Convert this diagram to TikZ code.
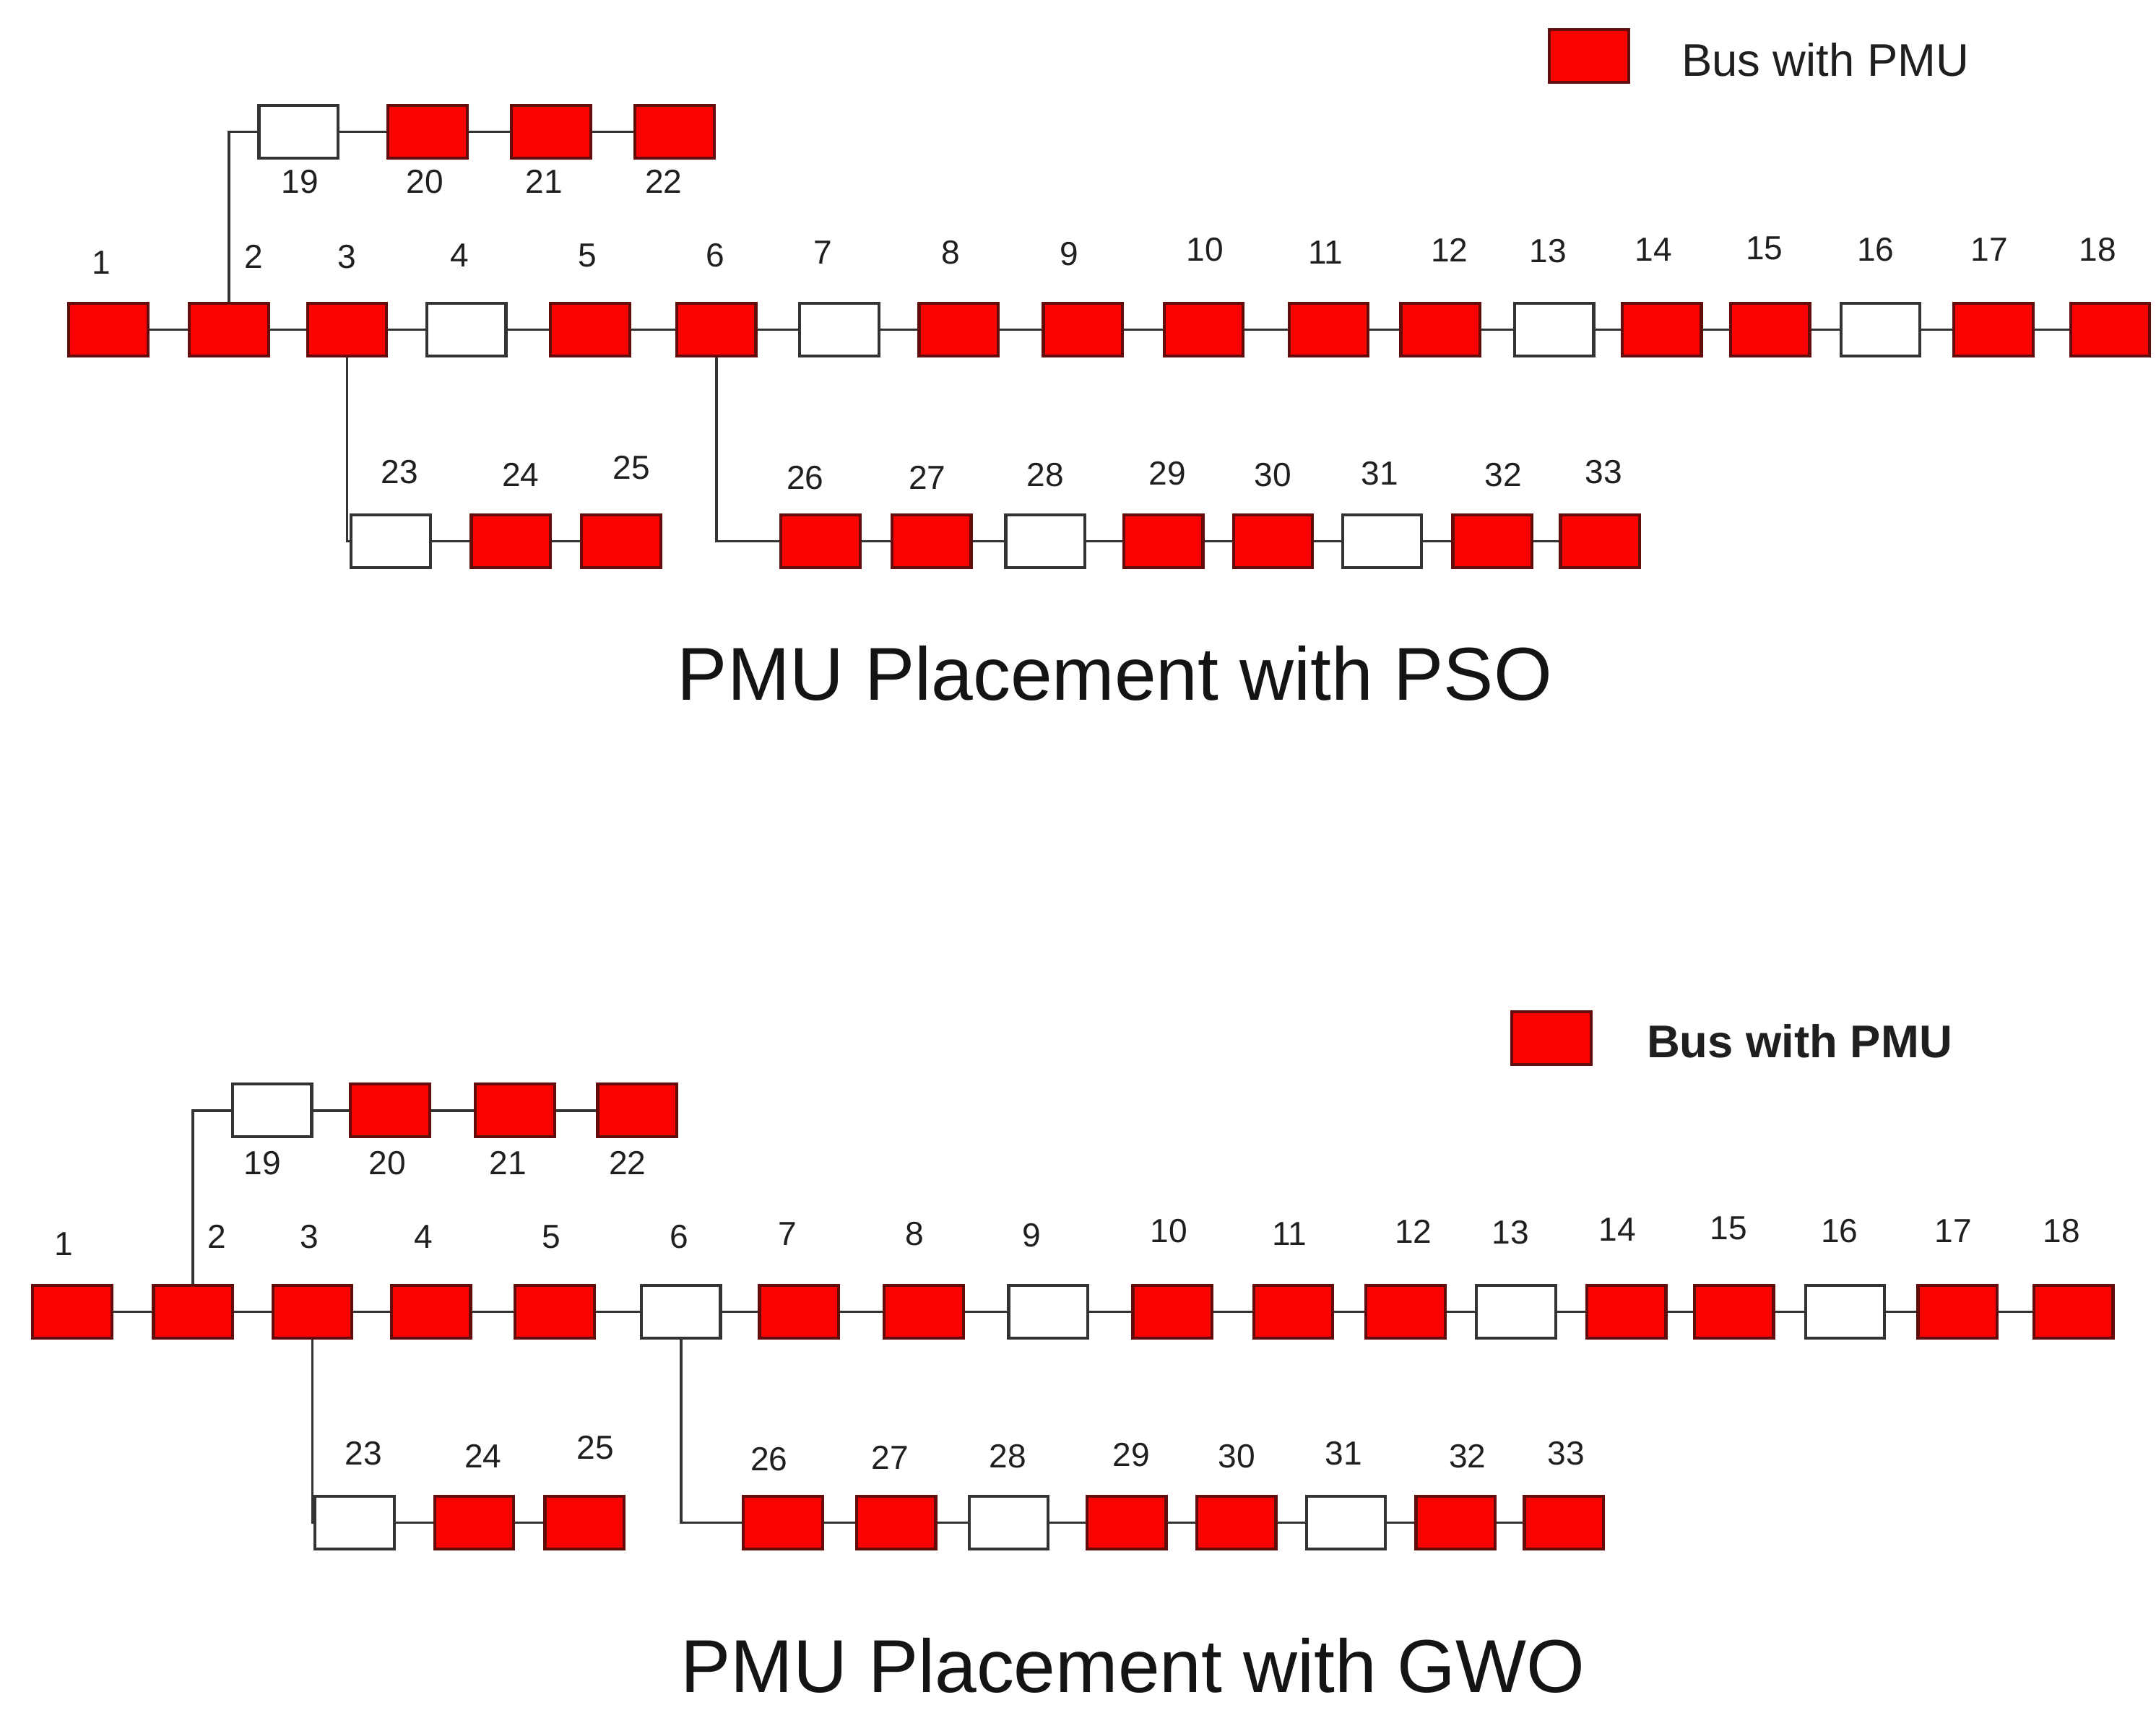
\documentclass[tikz,border=0pt]{standalone}
\usepackage{fontspec}
\setmainfont{Liberation Sans}
\definecolor{pmured}{RGB}{250,2,2}
\definecolor{pmuborder}{RGB}{100,12,12}
\begin{document}
\begin{tikzpicture}[x=1pt,y=-1pt,
  bus/.style={draw, minimum width=57pt, minimum height=38pt, inner sep=0pt, line width=2.2pt},
  pmu/.style={bus, fill=pmured, draw=pmuborder},
  nopmu/.style={bus, fill=white, draw=black!80},
  num/.style={font=\fontsize{24}{24}\selectfont, inner sep=0pt, text=black!88},
  wire/.style={draw=black!80, line width=1.9pt},
  legtext/.style={font=\fontsize{33}{33}\selectfont, inner sep=0pt, anchor=west, text=black!88},
  titletext/.style={font=\fontsize{54}{54}\selectfont, inner sep=0pt, text=black!92}]
\useasboundingbox (0,0) rectangle (1553,1237.7);

% ================= TOP: PSO =================
\foreach \n/\x/\lx/\ly/\f in {
  1/78/73/189/pmu, 2/165/183/185/pmu, 3/250/250/185/pmu, 4/336/331/184/nopmu,
  5/425/423/184/pmu, 6/516/515/184/pmu, 7/604.5/593/182/nopmu, 8/690.5/685/182/pmu,
  9/780/770/183/pmu, 10/867/868/180/pmu, 11/957/955/182/pmu, 12/1037.5/1044/180/pmu,
  13/1119.5/1115/181/nopmu, 14/1197/1191/180/pmu, 15/1275/1271/179/pmu,
  16/1354.5/1351/180/nopmu, 17/1436/1433/180/pmu, 18/1520/1511/180/pmu}{
  \node[\f] (a\n) at (\x,237.5) {};
  \node[num] (la\n) at (\lx,\ly) {\n};
}
\foreach \n/\x/\lx/\f in {19/215/216/nopmu, 20/308/306/pmu, 21/397/392/pmu, 22/486/478/pmu}{
  \node[\f] (a\n) at (\x,95) {};
  \node[num] (la\n) at (\lx,131) {\n};
}
\foreach \n/\x/\lx/\ly/\f in {
  23/281.5/288/340/nopmu, 24/368/375/342/pmu, 25/447.5/455/337/pmu,
  26/591/580/344/pmu, 27/671/668/344/pmu, 28/753/753/342/nopmu, 29/838/841/341/pmu,
  30/917/917/342/pmu, 31/995.5/994/341/nopmu, 32/1075/1083/342/pmu, 33/1152.5/1155/340/pmu}{
  \node[\f] (a\n) at (\x,390) {};
  \node[num] (la\n) at (\lx,\ly) {\n};
}
\foreach \i in {1,...,17}{
  \pgfmathtruncatemacro\j{\i+1}
  \draw[wire] (a\i.east) -- (a\j.west);
}
\foreach \i in {19,20,21,23,24,26,27,28,29,30,31,32}{
  \pgfmathtruncatemacro\j{\i+1}
  \draw[wire] (a\i.east) -- (a\j.west);
}
\draw[wire] (a2.north) |- (a19.west);
\draw[wire] (a3.south) |- (a23.west);
\draw[wire] (a6.south) |- (a26.west);

\node[pmu] (lega) at (1144.5,40.5) {};
\node[legtext] (legta) at (1211,43) {Bus with PMU};
\node[titletext] (ta) at (803,485) {PMU Placement with PSO};

% ================= BOTTOM: GWO =================
\foreach \n/\x/\lx/\ly/\f in {
  1/52/46/896/pmu, 2/139/156/891/pmu, 3/225/223/891/pmu, 4/310.5/305/891/pmu,
  5/399.5/397/891/pmu, 6/490.5/489/891/nopmu, 7/575.5/567/889/pmu, 8/665.5/659/889/pmu,
  9/755/743/890/nopmu, 10/844.5/842/887/pmu, 11/931.5/929/889/pmu, 12/1012.5/1018/887/pmu,
  13/1092/1088/888/nopmu, 14/1171.5/1165/886/pmu, 15/1249/1245/885/pmu,
  16/1329/1325/887/nopmu, 17/1410/1407/887/pmu, 18/1493.5/1485/887/pmu}{
  \node[\f] (b\n) at (\x,945) {};
  \node[num] (lb\n) at (\lx,\ly) {\n};
}
\foreach \n/\x/\lx/\f in {19/196/189/nopmu, 20/281/279/pmu, 21/371/366/pmu, 22/459/452/pmu}{
  \node[\f] (b\n) at (\x,800) {};
  \node[num] (lb\n) at (\lx,838) {\n};
}
\foreach \n/\x/\lx/\ly/\f in {
  23/255.5/262/1047/nopmu, 24/341.5/348/1049/pmu, 25/421/429/1043/pmu,
  26/564/554/1051/pmu, 27/645.5/641/1050/pmu, 28/726.5/726/1049/nopmu, 29/811.5/815/1048/pmu,
  30/890.5/891/1049/pmu, 31/969.5/968/1047/nopmu, 32/1048.5/1057/1049/pmu, 33/1126.5/1128/1047/pmu}{
  \node[\f] (b\n) at (\x,1097) {};
  \node[num] (lb\n) at (\lx,\ly) {\n};
}
\foreach \i in {1,...,17}{
  \pgfmathtruncatemacro\j{\i+1}
  \draw[wire] (b\i.east) -- (b\j.west);
}
\foreach \i in {19,20,21,23,24,26,27,28,29,30,31,32}{
  \pgfmathtruncatemacro\j{\i+1}
  \draw[wire] (b\i.east) -- (b\j.west);
}
\draw[wire] (b2.north) |- (b19.west);
\draw[wire] (b3.south) |- (b23.west);
\draw[wire] (b6.south) |- (b26.west);

\node[pmu] (legb) at (1117.5,748) {};
\node[legtext, font=\fontsize{33}{33}\selectfont\bfseries] (legtb) at (1186,750) {Bus with PMU};
\node[titletext] (tb) at (816,1200) {PMU Placement with GWO};
\end{tikzpicture}
\end{document}
